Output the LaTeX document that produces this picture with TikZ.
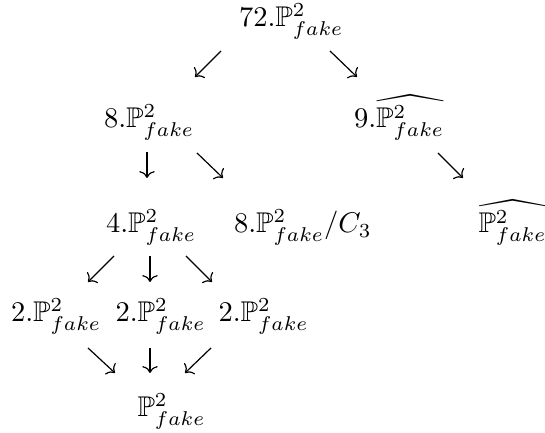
\documentclass[tikz,border=0pt]{standalone}
\usepackage{amsmath,amssymb}
\usetikzlibrary{arrows.meta}

\begin{document}
\begin{tikzpicture}[
            x=0.3509pt, y=-0.3509pt,
            lbl/.style={inner sep=0pt, anchor=base west},
            arr/.style={-{Computer Modern Rightarrow[length=2.4pt,width=5.4pt]}, line width=0.42pt}
        ]
        \useasboundingbox (0,0) rectangle (545,433);

        % spaces
        \node[lbl] (n72) at (238.5,27) {$72.\mathbb{P}^2_{fake}$};
        \node[lbl] (n8) at (103.5,128) {$8.\mathbb{P}^2_{fake}$};
        \node[lbl] (n9) at (353.5,128) {$9.\widehat{\mathbb{P}^2_{fake}}$};
        \node[lbl] (n4) at (105.5,233) {$4.\mathbb{P}^2_{fake}$};
        \node[lbl] (n8c) at (233.5,233) {$8.\mathbb{P}^2_{fake}/C_3$};
        \node[lbl] (nhat) at (478,233) {$\widehat{\mathbb{P}^2_{fake}}$};
        \node[lbl] (n2a) at (10.5,322) {$2.\mathbb{P}^2_{fake}$};
        \node[lbl] (n2b) at (115,322) {$2.\mathbb{P}^2_{fake}$};
        \node[lbl] (n2c) at (218,322) {$2.\mathbb{P}^2_{fake}$};
        \node[lbl] (nP) at (137,417) {$\mathbb{P}^2_{fake}$};

        % arrow ends
        \coordinate (a72l) at (221,51);  \coordinate (b8) at (195,77);
        \coordinate (a72r) at (330,51);  \coordinate (b9) at (357,77);
        \coordinate (a8d) at (147,152);  \coordinate (b4) at (147,178);
        \coordinate (a8r) at (197,153);  \coordinate (b8c) at (223,178);
        \coordinate (a9r) at (438,153);  \coordinate (bhat) at (463,178);
        \coordinate (a4l) at (114,256);  \coordinate (b2a) at (88,282);
        \coordinate (a4d) at (150,256);  \coordinate (b2b) at (150,282);
        \coordinate (a4r) at (186,256);  \coordinate (b2c) at (212,282);
        \coordinate (a2a) at (88,348);   \coordinate (bPl) at (115,373);
        \coordinate (a2b) at (150,348);  \coordinate (bPd) at (150,373);
        \coordinate (a2c) at (211,348);  \coordinate (bPr) at (185,373);

        \draw[arr] (a72l) -- (b8);
        \draw[arr] (a72r) -- (b9);
        \draw[arr] (a8d) -- (b4);
        \draw[arr] (a8r) -- (b8c);
        \draw[arr] (a9r) -- (bhat);
        \draw[arr] (a4l) -- (b2a);
        \draw[arr] (a4d) -- (b2b);
        \draw[arr] (a4r) -- (b2c);
        \draw[arr] (a2a) -- (bPl);
        \draw[arr] (a2b) -- (bPd);
        \draw[arr] (a2c) -- (bPr);

        \end{tikzpicture}
\end{document}
